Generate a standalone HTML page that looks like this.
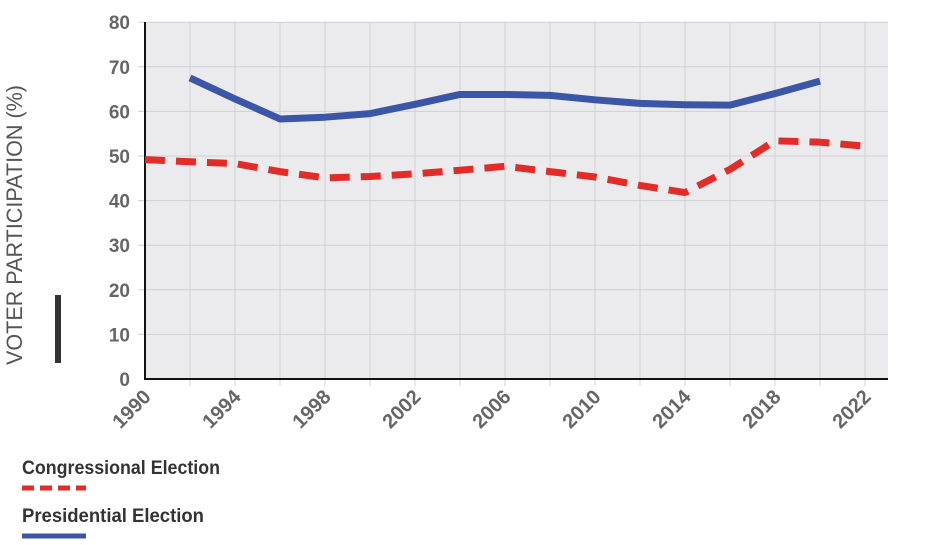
<!DOCTYPE html>
<html><head><meta charset="utf-8"><style>
body{margin:0;background:#fff;width:950px;height:540px;overflow:hidden;font-family:"Liberation Sans",sans-serif}
</style></head><body>
<svg id="chart" width="950" height="540">
<rect x="145" y="22" width="743" height="357" fill="#ebebee"/>
<g id="grid"></g>
<g id="yt"></g>
<g id="xt"></g>
<line x1="145" y1="22" x2="145" y2="380" stroke="#111" stroke-width="2"/>
<line x1="144" y1="379" x2="888" y2="379" stroke="#111" stroke-width="2"/>
<g id="series"></g>
<text transform="translate(22,225) rotate(-90)" text-anchor="middle" font-size="22" fill="#555" textLength="280" lengthAdjust="spacingAndGlyphs">VOTER PARTICIPATION (%)</text>
<rect x="55" y="295" width="6" height="68" fill="#333"/>
<text x="22" y="474" font-size="19" font-weight="bold" fill="#333" textLength="198" lengthAdjust="spacingAndGlyphs">Congressional Election</text>
<line x1="22" y1="488" x2="86" y2="488" stroke="#e32b28" stroke-width="5" stroke-dasharray="12,6"/>
<text x="22" y="522" font-size="19" font-weight="bold" fill="#333" textLength="182" lengthAdjust="spacingAndGlyphs">Presidential Election</text>
<line x1="22" y1="536" x2="86" y2="536" stroke="#3b56a6" stroke-width="5"/>
</svg>
<script>
const yTicks=[0,10,20,30,40,50,60,70,80];
const xLabels=[1990,1994,1998,2002,2006,2010,2014,2018,2022];
const congYears=[1990,1992,1994,1996,1998,2000,2002,2004,2006,2008,2010,2012,2014,2016,2018,2020,2022];
const congValues=[49.2,48.7,48.3,46.5,45.1,45.4,46,46.8,47.7,46.5,45.3,43.4,41.8,47,53.4,53.1,52.2];
const presYears=[1992,1994,1996,1998,2000,2002,2004,2006,2008,2010,2012,2014,2016,2018,2020];
const presValues=[67.5,62.8,58.3,58.7,59.5,61.6,63.8,63.8,63.6,62.6,61.8,61.5,61.4,64,66.8];
const NS='http://www.w3.org/2000/svg';
const X=y=>145+(y-1990)*22.5;
const Y=v=>379-v*4.46;
function mk(t,a,p){const e=document.createElementNS(NS,t);for(const k in a)e.setAttribute(k,a[k]);p.appendChild(e);return e;}
const grid=document.getElementById('grid'),yt=document.getElementById('yt'),xt=document.getElementById('xt'),ser=document.getElementById('series');
for(let yr=1992;yr<=2022;yr+=2){const l=mk('line',{x1:X(yr),x2:X(yr),y1:22,y2:386,stroke:'#d0d0d4','stroke-width':1},grid);

}
yTicks.forEach(v=>{if(v>0){const l=mk('line',{x1:138,x2:888,y1:Y(v),y2:Y(v),stroke:'#d0d0d4','stroke-width':1},grid);

}
const t=mk('text',{x:130,y:Y(v)+7,'text-anchor':'end','font-size':19,'font-weight':'bold',fill:'#666'},yt);t.textContent=v;

});
xLabels.forEach(yr=>{const t=mk('text',{transform:`translate(${X(yr)+7},${398}) rotate(-45)`,'text-anchor':'end','font-size':20,'font-weight':'bold',fill:'#666'},xt);t.textContent=yr;

});
function pts(ys,vs){return ys.map((y,i)=>X(y)+','+Y(vs[i])).join(' ');}
const c=mk('polyline',{points:pts(congYears,congValues),fill:'none',stroke:'#e32b28','stroke-width':7,'stroke-dasharray':'20,11','stroke-linejoin':'round'},ser);


const p=mk('polyline',{points:pts(presYears,presValues),fill:'none',stroke:'#3b56a6','stroke-width':7,'stroke-linejoin':'round'},ser);


</script>
</body></html>
